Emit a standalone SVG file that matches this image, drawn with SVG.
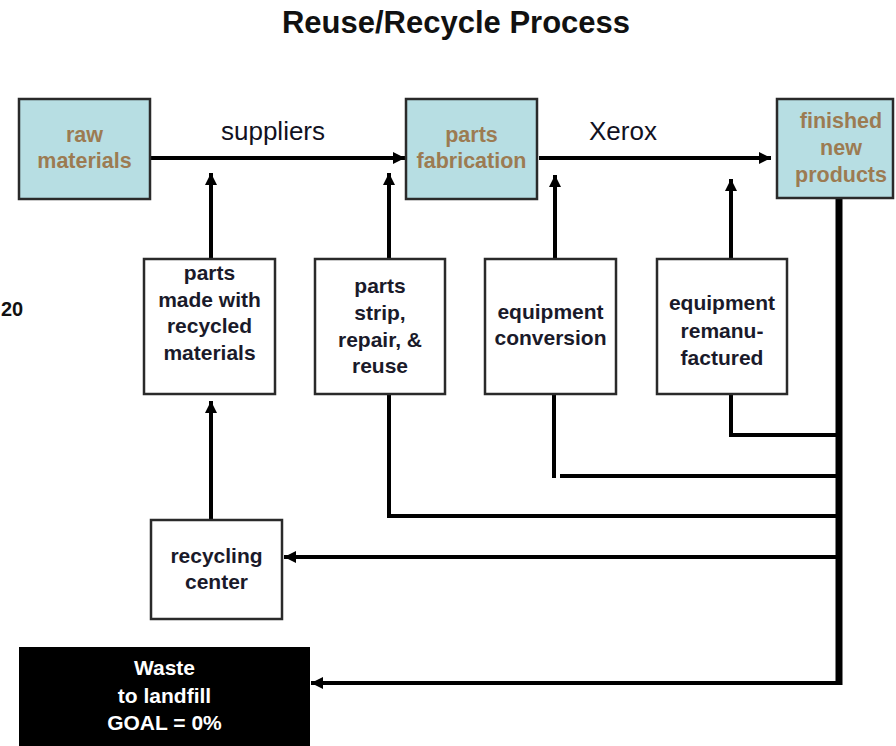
<svg xmlns="http://www.w3.org/2000/svg" width="896" height="746" viewBox="0 0 896 746">
<style>
.t{font-family:"Liberation Sans",Arial,sans-serif;font-weight:bold;text-anchor:middle}
.blue{fill:#b7dee3;stroke:#2a2a2a;stroke-width:2.5}
.white{fill:#ffffff;stroke:#2a2a2a;stroke-width:2.5}
.bt{font-size:21.5px;fill:#9c7b52}
.wt{font-size:21px;fill:#1a1a2a}
.c{fill:none;stroke:#000;stroke-width:4}
.lbl{font-family:"Liberation Sans",Arial,sans-serif;font-size:26px;fill:#111122;text-anchor:middle}
</style>
<defs>
<marker id="ah" markerUnits="userSpaceOnUse" markerWidth="14" markerHeight="14" refX="12" refY="7" orient="auto">
<path d="M0,1 L12,7 L0,13 z" fill="#000"/>
</marker>
</defs>
<rect width="896" height="746" fill="#ffffff"/>
<text class="t" x="456" y="33" style="font-size:31px;fill:#111">Reuse/Recycle Process</text>
<text class="t" x="1" y="316" style="font-size:20px;fill:#111;text-anchor:start">20</text>

<g id="connectors">
<path class="c" d="M150,158 H405" marker-end="url(#ah)"/>
<path class="c" d="M539,158 H771" marker-end="url(#ah)"/>
<path class="c" d="M211,259 V173" marker-end="url(#ah)"/>
<path class="c" d="M389,259 V173" marker-end="url(#ah)"/>
<path class="c" d="M555,259 V175" marker-end="url(#ah)"/>
<path class="c" d="M731,259 V179" marker-end="url(#ah)"/>
<path class="c" d="M211,520 V401" marker-end="url(#ah)"/>
<path class="c" d="M731,394 V435 H839"/>
<path class="c" d="M554,394 V478"/>
<path class="c" d="M560,476 H839"/>
<path class="c" d="M389,394 V516 H839"/>
<path class="c" d="M839,557 H284" marker-end="url(#ah)"/>
<path class="c" d="M839,683 H311" marker-end="url(#ah)"/>
<path d="M839,197 V685" fill="none" stroke="#000" stroke-width="7"/>
</g>
<text class="lbl" x="273" y="140">suppliers</text>
<text class="lbl" x="623" y="140">Xerox</text>

<g id="raw-materials">
<rect class="blue" x="19" y="99" width="131" height="100"/>
<text class="t bt" x="84.5" y="142">raw</text>
<text class="t bt" x="84.5" y="168">materials</text>
</g>
<g id="parts-fabrication">
<rect class="blue" x="406" y="99" width="131" height="100"/>
<text class="t bt" x="471.5" y="142">parts</text>
<text class="t bt" x="471.5" y="168">fabrication</text>
</g>
<g id="finished-new-products">
<rect class="blue" x="777" y="99" width="116" height="99"/>
<text class="t bt" x="841" y="128">finished</text>
<text class="t bt" x="841" y="155">new</text>
<text class="t bt" x="841" y="182">products</text>
</g>
<g id="parts-recycled">
<rect class="white" x="144" y="259" width="131" height="135"/>
<text class="t wt" x="209.5" y="280">parts</text>
<text class="t wt" x="209.5" y="307">made with</text>
<text class="t wt" x="209.5" y="333">recycled</text>
<text class="t wt" x="209.5" y="360">materials</text>
</g>
<g id="parts-strip">
<rect class="white" x="315" y="259" width="130" height="135"/>
<text class="t wt" x="380" y="293">parts</text>
<text class="t wt" x="380" y="320">strip,</text>
<text class="t wt" x="380" y="347">repair, &amp;</text>
<text class="t wt" x="380" y="373">reuse</text>
</g>
<g id="equipment-conversion">
<rect class="white" x="485" y="259" width="131" height="135"/>
<text class="t wt" x="550.5" y="319">equipment</text>
<text class="t wt" x="550.5" y="345">conversion</text>
</g>
<g id="equipment-remanufactured">
<rect class="white" x="657" y="259" width="130" height="135"/>
<text class="t wt" x="722" y="310">equipment</text>
<text class="t wt" x="722" y="338">remanu-</text>
<text class="t wt" x="722" y="365">factured</text>
</g>
<g id="recycling-center">
<rect class="white" x="151" y="520" width="131" height="99"/>
<text class="t wt" x="216.5" y="563">recycling</text>
<text class="t wt" x="216.5" y="589">center</text>
</g>
<g id="waste">
<rect x="19" y="647" width="291" height="110" fill="#000"/>
<text class="t" x="164.5" y="675" style="font-size:21px;fill:#fff">Waste</text>
<text class="t" x="164.5" y="703" style="font-size:21px;fill:#fff">to landfill</text>
<text class="t" x="164.5" y="730" style="font-size:21px;fill:#fff">GOAL = 0%</text>
</g>
</svg>
